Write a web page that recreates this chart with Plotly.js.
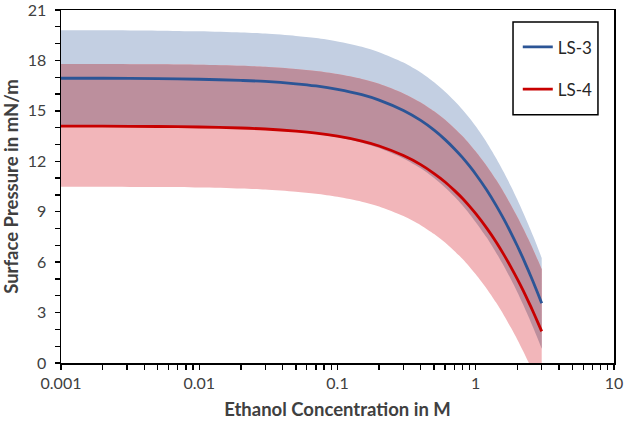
<!DOCTYPE html>
<html>
<head>
<meta charset="utf-8">
<script src="https://cdn.plot.ly/plotly-3.0.1.min.js"></script>
<style>
html,body{margin:0;padding:0;background:#fff;}
#chart{width:625px;height:421px;}
</style>
</head>
<body>
<div id="chart"></div>
<script>
// Ethanol concentration (M)
const concentration = [0.001, 0.002, 0.005, 0.01, 0.02, 0.03, 0.05, 0.07, 0.1, 0.15, 0.2, 0.3, 0.4, 0.5, 0.6, 0.7, 0.8, 0.9, 1.0, 1.2, 1.4, 1.6, 1.8, 2.0, 2.2, 2.4, 2.6, 2.8, 3.0];
// Surface pressure (mN/m)
const ls3 = [16.94, 16.94, 16.92, 16.88, 16.81, 16.75, 16.61, 16.48, 16.28, 15.96, 15.64, 15.02, 14.43, 13.85, 13.29, 12.75, 12.23, 11.72, 11.23, 10.29, 9.39, 8.54, 7.73, 6.96, 6.22, 5.51, 4.83, 4.18, 3.55];
const ls4 = [14.09, 14.09, 14.07, 14.04, 13.98, 13.92, 13.79, 13.67, 13.49, 13.20, 12.91, 12.34, 11.80, 11.27, 10.77, 10.27, 9.80, 9.33, 8.88, 8.02, 7.21, 6.43, 5.69, 4.99, 4.32, 3.67, 3.05, 2.45, 1.88];
// Uncertainty bands
const ls3Upper = [19.79, 19.79, 19.77, 19.73, 19.66, 19.60, 19.46, 19.33, 19.13, 18.81, 18.49, 17.87, 17.28, 16.70, 16.14, 15.60, 15.08, 14.57, 14.08, 13.12, 12.20, 11.33, 10.50, 9.71, 8.96, 8.24, 7.55, 6.89, 6.25];
const ls3Lower = [14.09, 14.09, 14.07, 14.03, 13.96, 13.90, 13.76, 13.63, 13.43, 13.11, 12.79, 12.17, 11.58, 11.00, 10.44, 9.90, 9.38, 8.87, 8.38, 7.46, 6.58, 5.75, 4.96, 4.21, 3.48, 2.78, 2.11, 1.47, 0.85];
const ls4Upper = [17.79, 17.79, 17.77, 17.74, 17.68, 17.62, 17.49, 17.37, 17.19, 16.90, 16.61, 16.04, 15.50, 14.97, 14.47, 13.97, 13.50, 13.03, 12.58, 11.72, 10.91, 10.13, 9.39, 8.69, 8.02, 7.37, 6.75, 6.15, 5.58];
const ls4Lower = [10.49, 10.49, 10.47, 10.44, 10.38, 10.32, 10.19, 10.07, 9.89, 9.60, 9.31, 8.74, 8.20, 7.67, 7.17, 6.67, 6.20, 5.73, 5.28, 4.42, 3.61, 2.83, 2.09, 1.39, 0.72, 0.07, -0.55, -1.15, -1.72];

const seriesNames = ['LS-3', 'LS-4'];
const xTickVals = [0.001, 0.01, 0.1, 1, 10];
const xTickLabels = ['0.001', '0.01', '0.1', '1', '10'];
const yTickVals = [0, 3, 6, 9, 12, 15, 18, 21];
const yTickLabels = ['0', '3', '6', '9', '12', '15', '18', '21'];

const xMinor = [];
for (let d = 0; d < 4; d++) {
  for (let m = 2; m <= 9; m++) xMinor.push(m * Math.pow(10, d - 3));
}

const FONT = 'Lato, "Open Sans", "Liberation Sans", sans-serif';
const noLine = {width: 0, color: 'rgba(0,0,0,0)', shape: 'spline', smoothing: 0.8};

const traces = [
  {x: concentration, y: ls3Lower, mode: 'lines', line: noLine, showlegend: false, hoverinfo: 'skip'},
  {x: concentration, y: ls3Upper, mode: 'lines', line: noLine, fill: 'tonexty', fillcolor: '#c3cfe2', showlegend: false, hoverinfo: 'skip'},
  {x: concentration, y: ls4Lower, mode: 'lines', line: noLine, showlegend: false, hoverinfo: 'skip'},
  {x: concentration, y: ls4Upper, mode: 'lines', line: noLine, fill: 'tonexty', fillcolor: '#f2b6ba', showlegend: false, hoverinfo: 'skip'},
  {x: concentration, y: ls3Lower, mode: 'lines', line: noLine, showlegend: false, hoverinfo: 'skip'},
  {x: concentration, y: ls4Upper, mode: 'lines', line: noLine, fill: 'tonexty', fillcolor: '#bc8f9d', showlegend: false, hoverinfo: 'skip'},
  {x: concentration, y: ls3, mode: 'lines', name: seriesNames[0], legendgroup: 'a', line: {color: '#2c5596', width: 2.8, shape: 'spline', smoothing: 0.8}},
  {x: concentration, y: ls4, mode: 'lines', name: seriesNames[1], legendgroup: 'b', line: {color: '#c80000', width: 2.8, shape: 'spline', smoothing: 0.8}}
];

const layout = {
  width: 625, height: 421,
  margin: {l: 61, r: 11, t: 10, b: 58},
  paper_bgcolor: '#fff', plot_bgcolor: '#fff',
  font: {family: FONT, color: '#404040', size: 16},
  showlegend: true,
  legend: {
    x: 0.826, y: 0.945, xanchor: 'left', yanchor: 'top',
    bgcolor: 'rgba(0,0,0,0)', borderwidth: 0,
    font: {family: FONT, size: 17, color: '#262626'},
    traceorder: 'grouped', tracegroupgap: 17
  },
  shapes: [{
    type: 'rect', xref: 'paper', yref: 'paper',
    x0: 0.8174, x1: 0.971, y0: 0.7034, y1: 0.966,
    line: {color: '#000', width: 1.5}, fillcolor: 'rgba(0,0,0,0)', layer: 'above'
  }],
  xaxis: {
    type: 'log', range: [-3, 1],
    tickmode: 'array', tickvals: xTickVals, ticktext: xTickLabels,
    ticks: 'outside', ticklen: 5, tickwidth: 1.3, tickcolor: '#000',
    minor: {tickmode: 'array', tickvals: xMinor, ticks: 'outside', ticklen: 5, tickwidth: 1.3, tickcolor: '#000', showgrid: false},
    ticklabeloverflow: 'allow',
    showgrid: false, zeroline: false,
    showline: true, linecolor: '#000', linewidth: 1.5, mirror: true,
    tickfont: {family: FONT, size: 16, color: '#404040'},
    title: {text: 'Ethanol Concentration in M', font: {family: FONT, size: 18.5, color: '#404040', weight: 'bold'}, standoff: 12}
  },
  yaxis: {
    range: [0, 21],
    tickmode: 'array', tickvals: yTickVals, ticktext: yTickLabels,
    ticks: 'outside', ticklen: 5, tickwidth: 1.3, tickcolor: '#000',
    minor: {dtick: 1, ticks: 'outside', ticklen: 5, tickwidth: 1.3, tickcolor: '#000', showgrid: false},
    ticklabelstandoff: 5,
    ticklabeloverflow: 'allow',
    showgrid: false, zeroline: false,
    showline: true, linecolor: '#000', linewidth: 1.5, mirror: true,
    tickfont: {family: FONT, size: 16, color: '#404040'},
    title: {text: 'Surface Pressure in mN/m', font: {family: FONT, size: 18.5, color: '#404040', weight: 'bold'}, standoff: 10}
  }
};

Plotly.newPlot('chart', traces, layout, {staticPlot: true, displayModeBar: false});
</script>
</body>
</html>
